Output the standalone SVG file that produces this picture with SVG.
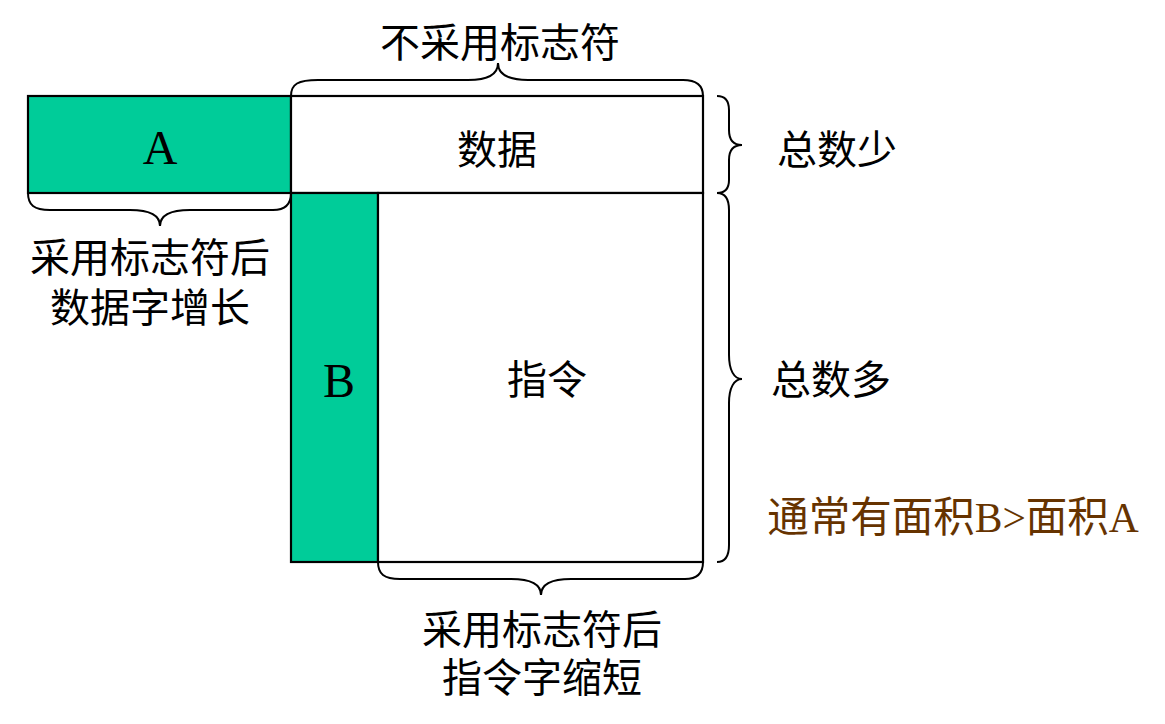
<svg xmlns="http://www.w3.org/2000/svg" width="1165" height="724" viewBox="0 0 1165 724">
<style>
.box{stroke:#000;stroke-width:2.2}
.g{fill:#00CC99}
.w{fill:#fff}
.br{fill:none;stroke:#000;stroke-width:2}
text{font-family:"Liberation Serif","Noto Sans CJK SC",serif;font-size:40px;text-anchor:middle;dominant-baseline:central;fill:#000}
.big{font-size:48px}
.brown{fill:#663300;font-size:41.5px}
</style>
<rect width="1165" height="724" fill="#fff"/>
<g id="nodeA"><rect class="box g" x="28" y="96" width="263" height="97"/><text class="big" x="160" y="147">A</text></g>
<g id="nodeData"><rect class="box w" x="291" y="96" width="412" height="97"/><text x="497" y="150">数据</text></g>
<g id="nodeB"><rect class="box g" x="291" y="193" width="87" height="369"/><text class="big" x="339" y="380">B</text></g>
<g id="nodeInstr"><rect class="box w" x="378" y="193" width="325" height="369"/><text x="547" y="380">指令</text></g>
<g id="connectors">
<path class="br" d="M291,96 C291,84 298,80 318,80 L468,80 C488,80 498,74 498,63 C498,74 508,80 528,80 L683,80 C697,80 703,86 703,96"/>
<path class="br" d="M28,193 C28,205 34,210 50,210 L130,210 C150,210 160,216 160,226 C160,216 170,210 190,210 L273,210 C285,210 291,205 291,193"/>
<path class="br" d="M378,562 C378,574 384,579 400,579 L511,579 C531,579 541,585 541,595 C541,585 551,579 571,579 L685,579 C697,579 703,574 703,562"/>
<path class="br" d="M717,96 C725,96 729,100 729,110 L729,130 C729,140 734,145 742,145 C734,145 729,150 729,160 L729,180 C729,189 725,193 717,193"/>
<path class="br" d="M717,193 C725,193 729,198 729,210 L729,355 C729,370 734,379 742,379 C734,379 729,388 729,403 L729,545 C729,557 725,562 717,562"/>
</g>
<g id="labels">
<text x="500" y="43">不采用标志符</text>
<text x="837" y="150">总数少</text>
<text x="831" y="380">总数多</text>
<text x="150" y="258">采用标志符后</text>
<text x="150" y="308">数据字增长</text>
<text x="542" y="630">采用标志符后</text>
<text x="542" y="678">指令字缩短</text>
<text class="brown" x="953" y="518">通常有面积B&gt;面积A</text>
</g>
</svg>
